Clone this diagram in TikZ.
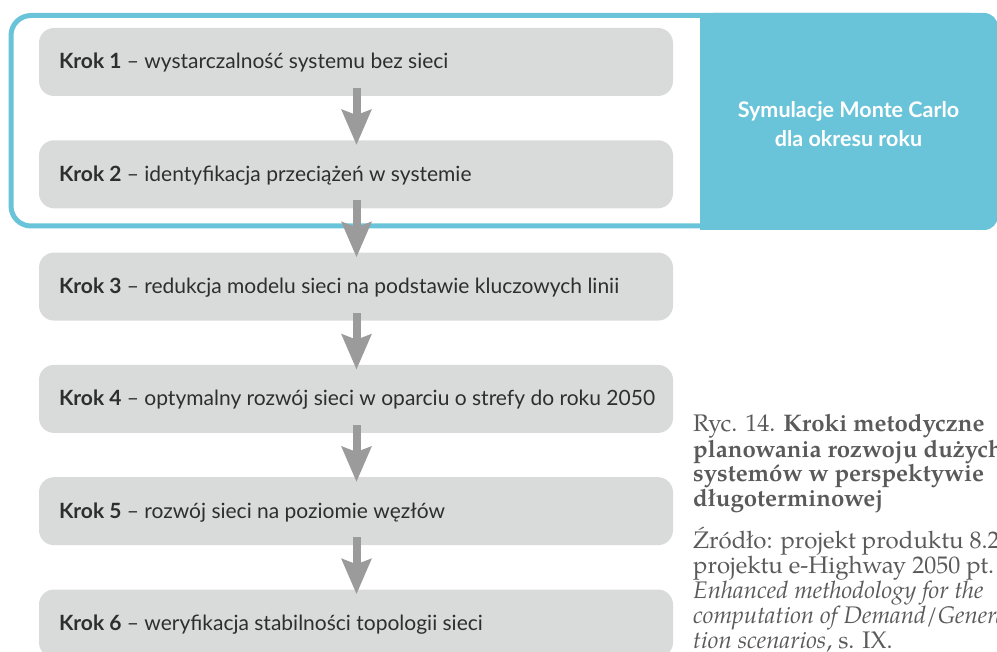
\documentclass[tikz,border=0pt]{standalone}
\usepackage{fontspec}
\setmainfont{Lato}
\newfontfamily\capfont{texgyrepagella}[Extension=.otf,UprightFont=*-regular,BoldFont=*-bold,ItalicFont=*-italic,BoldItalicFont=*-bolditalic]
\usetikzlibrary{arrows.meta}
\definecolor{mcblue}{HTML}{6AC4D9}
\definecolor{boxgray}{HTML}{D9DBDA}
\definecolor{arrgray}{HTML}{9B9B9B}
\definecolor{txtdark}{HTML}{2E2E2E}
\definecolor{capgray}{HTML}{5A5A5A}
\begin{document}
\begin{tikzpicture}[x=1pt,y=-1pt,
  stepbox/.style={fill=boxgray, rounded corners=15pt, minimum width=634pt, minimum height=68pt,
    inner xsep=20pt, inner ysep=0pt, text=txtdark, font=\fontsize{21}{25}\selectfont,
    text height=18pt, text depth=4pt},
  flow/.style={draw=arrgray, line width=8pt, -{Stealth[length=35pt,width=29pt,inset=5pt]}},
  mcfill/.style={fill=mcblue, rounded corners=14pt, minimum width=298pt, minimum height=217pt, inner sep=0pt},
  mctext/.style={text=white, font=\fontsize{21.5}{29.5}\selectfont\bfseries, align=center, inner sep=0pt},
  capstyle/.style={text=capgray, inner sep=0pt}
]
\useasboundingbox (0,0) rectangle (997,652);
\clip (0,0) rectangle (997,652);
% outline of the Monte Carlo loop
\draw[mcblue, line width=5pt, rounded corners=20pt] (11,15.5) rectangle (990,226);
\node[mcfill] (mc) at (849,121.5) {};
\fill[mcblue] (mc.north west) rectangle ([xshift=30pt]mc.south west);
\node[mctext] (mct) at (848.5,124) {Symulacje Monte Carlo\\dla okresu roku};
% steps
\node[stepbox] (b1) at (356,62)    {\makebox[594pt][l]{\textbf{Krok 1} – wystarczalność systemu bez sieci}};
\node[stepbox] (b2) at (356,174.3) {\makebox[594pt][l]{\textbf{Krok 2} – identyfikacja przeciążeń w systemie}};
\node[stepbox] (b3) at (356,286.6) {\makebox[594pt][l]{\textbf{Krok 3} – redukcja modelu sieci na podstawie kluczowych linii}};
\node[stepbox] (b4) at (356,398.9) {\makebox[594pt][l]{\textbf{Krok 4} – optymalny rozwój sieci w oparciu o strefy do roku 2050}};
\node[stepbox] (b5) at (356,511.2) {\makebox[594pt][l]{\textbf{Krok 5} – rozwój sieci na poziomie węzłów}};
\node[stepbox] (b6) at (356,623.5) {\makebox[594pt][l]{\textbf{Krok 6} – weryfikacja stabilności topologii sieci}};
% arrows
\foreach \a/\b in {b1/b2,b2/b3,b3/b4,b4/b5,b5/b6}
  \draw[flow] ([xshift=0.5pt,yshift=8pt]\a.south) -- ([xshift=0.5pt,yshift=-5pt]\b.north);
% caption
\node[capstyle, anchor=base west] (cap) at (693,432) {\parbox[t]{420pt}{\capfont\fontsize{24}{25}\selectfont\raggedright
Ryc. 14. \textbf{Kroki metodyczne}\\
\textbf{planowania rozwoju dużych}\\
\textbf{systemów w perspektywie}\\
\textbf{długoterminowej}\\[13pt]
Źródło: projekt produktu 8.2\\
projektu e-Highway 2050 pt.\\
\textit{Enhanced methodology for the}\\
\textit{computation of Demand/Genera-}\\
\textit{tion scenarios}, s. IX.}};
\end{tikzpicture}
\end{document}
